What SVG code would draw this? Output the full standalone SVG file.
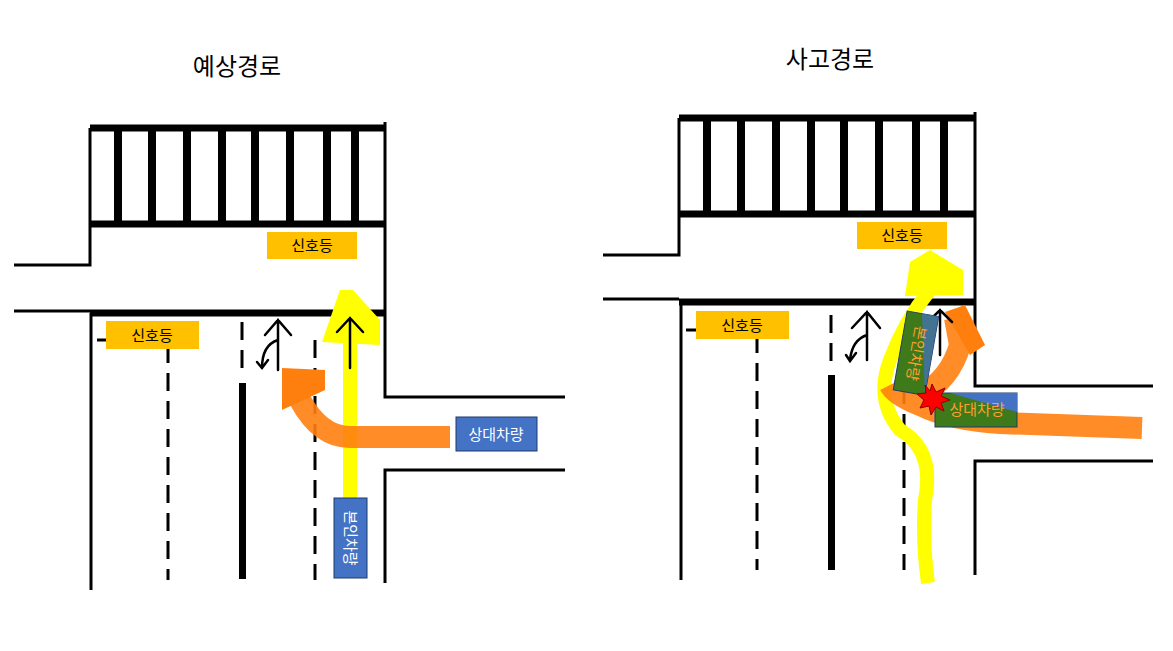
<svg xmlns="http://www.w3.org/2000/svg" width="1173" height="651" viewBox="0 0 1173 651">
<style>
.l{stroke:#000;stroke-width:3;fill:none}
.t{stroke:#000;stroke-width:7;fill:none}
.d{stroke:#000;stroke-width:3;stroke-dasharray:18,10;fill:none}
.bar{fill:#000}
.txt{font-family:"Noto Sans CJK KR","Noto Sans",sans-serif;font-size:15px}
.ttl{font-family:"Noto Sans CJK KR","Noto Sans",sans-serif;font-size:24px}
.sig{fill:#ffc000}
.blue{fill:#4472c4}
.or{stroke:#ff7f0e;stroke-width:22;fill:none;stroke-opacity:.9}
.ye{stroke:#ffff00;stroke-width:14;fill:none}
.pen{stroke:#000;stroke-width:2.5;fill:none;stroke-linecap:round}
</style>
<rect width="1173" height="651" fill="#fff"/>
<text class="ttl" x="237" y="75" text-anchor="middle">예상경로</text>
<text class="ttl" x="830" y="68" text-anchor="middle">사고경로</text>

<g id="left-road">
<path class="t" d="M90 128H385M90 224H385M90 313H385"/>
<path class="l" d="M90 128V265H14M14 311H90M91 313V590M385 122V397H565M565 470H385V583"/>
<g class="bar"><rect x="114" y="128" width="8" height="96"/><rect x="148" y="128" width="8" height="96"/><rect x="183" y="128" width="8" height="96"/><rect x="218" y="128" width="8" height="96"/><rect x="251" y="128" width="8" height="96"/><rect x="286" y="128" width="8" height="96"/><rect x="323" y="128" width="8" height="96"/><rect x="351" y="128" width="8" height="96"/></g>
<path class="d" d="M168 345V580M242 322V372M315 340V580"/>
<rect x="239" y="383" width="7" height="196"/>
</g>
<g id="left-flows">
<path class="ye" d="M350 500V320"/>
<path d="M322 342 L340 290 H353 L380 320 V345 Z" fill="#ffff00"/>
<path class="or" d="M450 437 H350 Q320 437 300 400"/>
<path d="M282 410 L282 368 L325 370 L325 390 Z" fill="#ff7f0e"/>
<path class="pen" d="M350 368V318M337 332L350 318L363 332"/>
<path class="pen" d="M278 370V320M265 335L278 320L291 335M278 340Q262 345 262 368M257 362L262 368L268 360"/>
</g>
<g id="left-signal-1"><rect class="sig" x="267" y="232" width="90" height="27"/><text class="txt" x="312" y="251" text-anchor="middle">신호등</text></g>
<g id="left-signal-2"><path class="l" d="M97 340H106" stroke-width="1.5"/><rect class="sig" x="106" y="321" width="93" height="28"/><text class="txt" x="152" y="341" text-anchor="middle">신호등</text></g>
<g id="left-other"><rect class="blue" x="456" y="417" width="81" height="34" stroke="#1f3a6b"/><text class="txt" x="496" y="440" text-anchor="middle" fill="#fff">상대차량</text></g>
<g id="left-me"><rect class="blue" x="334" y="498" width="33" height="80" stroke="#1f3a6b"/><text class="txt" transform="translate(345 538) rotate(90)" text-anchor="middle" fill="#fff">본인차량</text></g>

<g id="right-road">
<path class="t" d="M679 118H975M679 214H975M679 302H975"/>
<path class="l" d="M679 118V255H603M603 299H679M681 302V580M975 112V386H1153M1153 461H975V575"/>
<g class="bar"><rect x="703" y="118" width="8" height="96"/><rect x="737" y="118" width="8" height="96"/><rect x="772" y="118" width="8" height="96"/><rect x="807" y="118" width="8" height="96"/><rect x="840" y="118" width="8" height="96"/><rect x="875" y="118" width="8" height="96"/><rect x="912" y="118" width="8" height="96"/><rect x="940" y="118" width="8" height="96"/></g>
<path class="d" d="M757 335V570M831 315V365M904 330V570"/>
<rect x="828" y="375" width="7" height="195"/>
</g>
<g id="right-flows">
<path class="ye" d="M928 583 Q922 540 925 500 Q935 450 900 430 Q875 400 890 360 Q905 320 930 290"/>
<path d="M905 296 L910 262 L930 250 L963 270 L963 295 Z" fill="#ffff00"/>
<path class="or" d="M1142 428 L1000 423 Q950 420 920 405 Q895 395 890 385"/>
<path class="or" d="M920 395 Q950 380 960 345 L955 318"/>
<path d="M945 312 L965 305 L985 345 L970 355 Z" fill="#ff7f0e"/>
<path class="pen" d="M940 355V310M928 322L940 310L952 322"/>
<path class="pen" d="M867 360V312M852 328L867 312L880 328M867 335Q852 340 850 360M846 355L850 361L856 353"/>
</g>
<g id="right-signal-1"><rect class="sig" x="857" y="222" width="90" height="27"/><text class="txt" x="902" y="241" text-anchor="middle">신호등</text></g>
<g id="right-signal-2"><path class="l" d="M686 330H696" stroke-width="1.5"/><rect class="sig" x="696" y="311" width="93" height="28"/><text class="txt" x="742" y="331" text-anchor="middle">신호등</text></g>
<g id="right-other"><rect x="935" y="393" width="82" height="34" fill="#3e7a1a" stroke="#1f3a6b"/><path d="M950 393H1017V412Z" fill="#4472c4"/><text class="txt" x="977" y="415" text-anchor="middle" fill="#ff9f2e">상대차량</text></g>
<g id="right-me" transform="rotate(10 915 353)"><rect x="900" y="313" width="32" height="80" fill="#3e7a1a" stroke="#1f3a6b"/><path d="M915 313H932V393Z" fill="#4472c4" opacity=".7"/><text class="txt" transform="translate(911 353) rotate(90)" text-anchor="middle" fill="#ff9f2e">본인차량</text></g>
<g id="crash"><polygon points="932,384 936,392 945,388 941,396 950,400 941,403 944,411 936,407 931,415 929,406 920,408 924,400 917,394 926,393 925,385 930,391" fill="#ff0000" stroke="#800" stroke-width="1"/></g>
</svg>
